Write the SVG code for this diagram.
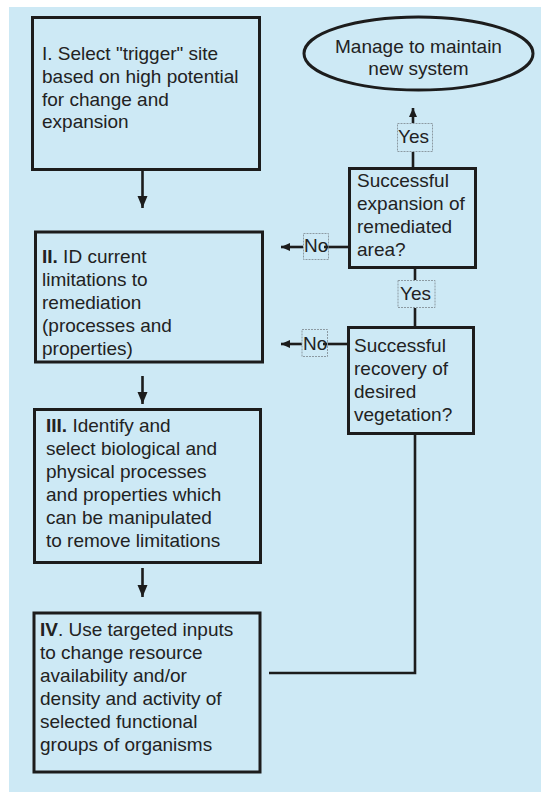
<svg xmlns="http://www.w3.org/2000/svg" width="541" height="792" viewBox="0 0 541 792">
<style>
.bg{fill:#cde9f5}
.box{fill:none;stroke:#1c1c1c;stroke-width:3}
.lab{fill:none;stroke:#8c9aa2;stroke-width:1;stroke-dasharray:2 1}
.t{font-family:"Liberation Sans",Arial,sans-serif;font-size:19px;fill:#222}
.c{text-anchor:middle}
.b{font-weight:bold}
.e{fill:none;stroke:#1c1c1c;stroke-width:2.6}
</style>
<defs>
<marker id="big" markerUnits="userSpaceOnUse" markerWidth="12" markerHeight="12" refX="12" refY="5" orient="auto">
<path d="M0,0 L12,5 L0,10 z" fill="#1c1c1c"/>
</marker>
<marker id="sm" markerUnits="userSpaceOnUse" markerWidth="9" markerHeight="9" refX="9" refY="4" orient="auto">
<path d="M0,0 L9,4 L0,8 z" fill="#1c1c1c"/>
</marker>
</defs>
<rect class="bg" x="9" y="7" width="532" height="785"/>

<g id="connectors">
<line class="e" x1="142.5" y1="171" x2="142.5" y2="208" marker-end="url(#big)"/>
<line class="e" x1="142.5" y1="376" x2="142.5" y2="404" marker-end="url(#big)"/>
<line class="e" x1="142.5" y1="568" x2="142.5" y2="597" marker-end="url(#big)"/>
<line class="e" x1="413" y1="167" x2="413" y2="152"/>
<line class="e" x1="413" y1="123" x2="413" y2="108" marker-end="url(#sm)"/>
<line class="e" x1="415" y1="267" x2="415" y2="280"/>
<line class="e" x1="415" y1="308" x2="415" y2="326"/>
<line class="e" x1="348" y1="247" x2="324" y2="247"/>
<line class="e" x1="303" y1="247" x2="281" y2="247" marker-end="url(#sm)"/>
<line class="e" x1="347" y1="344" x2="323" y2="344"/>
<line class="e" x1="302" y1="344" x2="281" y2="344" marker-end="url(#sm)"/>
<polyline class="e" points="269,673 415,673 415,434"/>
</g>

<g id="n1">
<rect class="box" x="32.5" y="17.5" width="227" height="152"/>
<text class="t" x="42" y="60">I. Select "trigger" site</text>
<text class="t" x="42" y="83">based on high potential</text>
<text class="t" x="42" y="105.5">for change and</text>
<text class="t" x="42" y="128">expansion</text>
</g>

<g id="n2">
<rect class="box" x="35.5" y="232" width="227" height="130"/>
<text class="t" x="42" y="263"><tspan class="b">II.</tspan> ID current</text>
<text class="t" x="42" y="286">limitations to</text>
<text class="t" x="42" y="309">remediation</text>
<text class="t" x="42" y="332">(processes and</text>
<text class="t" x="42" y="355">properties)</text>
</g>

<g id="n3">
<rect class="box" x="34.5" y="409.5" width="226" height="153"/>
<text class="t" x="46" y="432"><tspan class="b">III.</tspan> Identify and</text>
<text class="t" x="46" y="455">select biological and</text>
<text class="t" x="46" y="478">physical processes</text>
<text class="t" x="46" y="501">and properties which</text>
<text class="t" x="46" y="524">can be manipulated</text>
<text class="t" x="46" y="547">to remove limitations</text>
</g>

<g id="n4">
<rect class="box" x="34" y="613" width="226" height="159"/>
<text class="t" x="40" y="636"><tspan class="b">IV</tspan>. Use targeted inputs</text>
<text class="t" x="40" y="659">to change resource</text>
<text class="t" x="40" y="682">availability and/or</text>
<text class="t" x="40" y="705">density and activity of</text>
<text class="t" x="40" y="728">selected functional</text>
<text class="t" x="40" y="751">groups of organisms</text>
</g>

<g id="n5">
<ellipse class="box" cx="418.5" cy="53.5" rx="114.5" ry="36.5"/>
<text class="t c" x="418.5" y="53">Manage to maintain</text>
<text class="t c" x="418.5" y="75">new system</text>
</g>

<g id="d1">
<rect class="box" x="349.5" y="168.5" width="126" height="99"/>
<text class="t" x="357" y="187">Successful</text>
<text class="t" x="357" y="210">expansion of</text>
<text class="t" x="357" y="233">remediated</text>
<text class="t" x="357" y="256">area?</text>
</g>

<g id="d2">
<rect class="box" x="348.5" y="327.5" width="125" height="106"/>
<text class="t" x="354" y="352">Successful</text>
<text class="t" x="354" y="375">recovery of</text>
<text class="t" x="354" y="398">desired</text>
<text class="t" x="354" y="421">vegetation?</text>
</g>

<g id="labels">
<rect class="lab" x="397.5" y="123.5" width="35" height="28"/>
<text class="t" x="398" y="143">Yes</text>
<rect class="lab" x="398" y="280.5" width="37" height="27"/>
<text class="t" x="400" y="300">Yes</text>
<rect class="lab" x="303.5" y="233.5" width="25" height="26"/>
<text class="t" x="304" y="252">No</text>
<rect class="lab" x="302" y="329.5" width="25.5" height="27"/>
<text class="t" x="303" y="349.5">No</text>
</g>
</svg>
